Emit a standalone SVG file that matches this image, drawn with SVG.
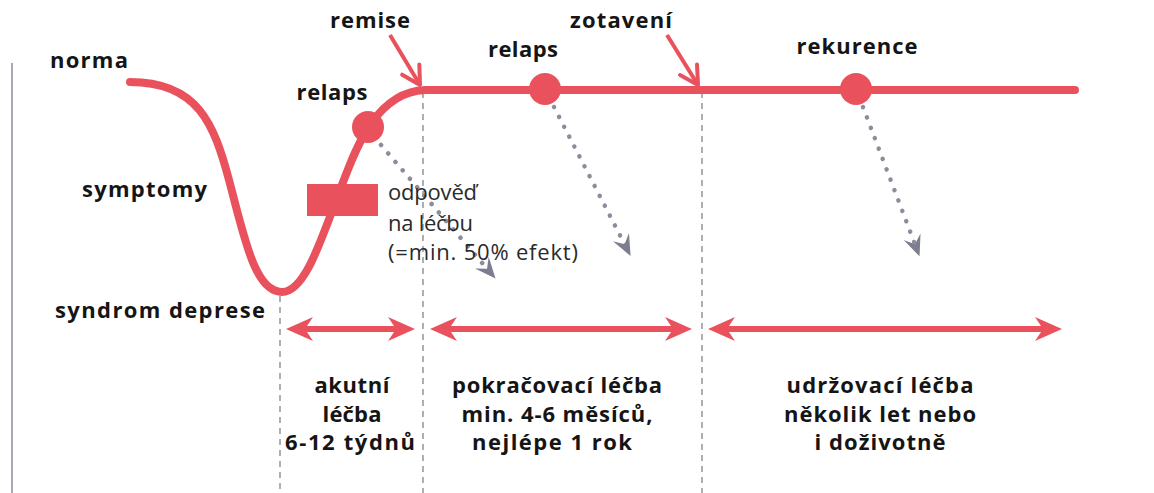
<svg xmlns="http://www.w3.org/2000/svg" width="1154" height="493" viewBox="0 0 1154 493">
<style>
.lbl{font-family:"Open Sans","Liberation Sans",sans-serif;font-weight:700;font-size:22px;fill:#151515}
.reg{font-family:"Open Sans","Liberation Sans",sans-serif;font-weight:400;font-size:22px;fill:#2a2a2a}
.phase{font-family:"Open Sans","Liberation Sans",sans-serif;font-weight:700;font-size:22px;fill:#151515;text-anchor:middle}
.mid{text-anchor:middle}
.red{stroke:#e9525d;fill:none}
.dash{stroke:#9a9aa0;stroke-width:1.6;stroke-dasharray:6 5;fill:none}
.dots{stroke:#8c8c9c;stroke-width:4.5;stroke-linecap:round;stroke-dasharray:0.1 11;fill:none}
.dot{fill:#e9525d}
</style>
<defs>
<marker id="redHead" viewBox="-30 -13 32 26" markerWidth="32" markerHeight="26" refX="-16" refY="0" orient="auto-start-reverse" markerUnits="userSpaceOnUse">
<path d="M0,0 L-27,-12 L-19,0 L-27,12 Z" fill="#e9525d"/>
</marker>
<marker id="grayHead" viewBox="-24 -11 26 22" markerWidth="26" markerHeight="22" refX="-10" refY="0" orient="auto" markerUnits="userSpaceOnUse">
<path d="M0,0 L-21,-9 L-13,0 L-21,9 Z" fill="#7d7d90"/>
</marker>
<marker id="openHead" viewBox="-22 -12 24 24" markerWidth="24" markerHeight="24" refX="0" refY="0" orient="auto" markerUnits="userSpaceOnUse">
<path d="M-18,-10 L0,0 L-18,10" fill="none" stroke="#e9525d" stroke-width="4" stroke-linecap="round" stroke-linejoin="round"/>
</marker>
</defs>
<rect width="1154" height="493" fill="#ffffff"/>
<line x1="12" y1="63" x2="12" y2="493" stroke="#a8a8b0" stroke-width="2"/>

<g id="connectors">
<line class="dash" x1="280" y1="296" x2="280" y2="493"/>
<line class="dash" x1="423" y1="92" x2="423" y2="493"/>
<line class="dash" x1="702" y1="92" x2="702" y2="493"/>
<path id="course" class="red" stroke-width="8" stroke-linecap="round" d="M130,82 C198,82 214,124 229,180 C245,240 255,292 282,292 C305,292 321,240 340,190 C352,160 372,92 425,90 L1075,90"/>
<line class="red" stroke-width="4" x1="390" y1="35" x2="420" y2="85" marker-end="url(#openHead)"/>
<line class="red" stroke-width="4" x1="667" y1="35" x2="698" y2="85" marker-end="url(#openHead)"/>
<line class="dots" x1="381" y1="145" x2="489" y2="271" marker-end="url(#grayHead)"/>
<line class="dots" x1="554" y1="107" x2="626" y2="247" marker-end="url(#grayHead)"/>
<line class="dots" x1="863" y1="107" x2="916" y2="247" marker-end="url(#grayHead)"/>
<line class="red" stroke-width="6" x1="302" y1="329" x2="399" y2="329" marker-start="url(#redHead)" marker-end="url(#redHead)"/>
<line class="red" stroke-width="6" x1="446" y1="329" x2="676" y2="329" marker-start="url(#redHead)" marker-end="url(#redHead)"/>
<line class="red" stroke-width="6" x1="724" y1="329" x2="1046" y2="329" marker-start="url(#redHead)" marker-end="url(#redHead)"/>
</g>

<g id="relaps1"><circle class="dot" cx="368" cy="127" r="16"/><text class="lbl mid" x="332" y="100" textLength="71">relaps</text></g>
<g id="relaps2"><circle class="dot" cx="545" cy="89" r="16"/><text class="lbl mid" x="523" y="57" textLength="70">relaps</text></g>
<g id="rekurence"><circle class="dot" cx="856" cy="89" r="16"/><text class="lbl mid" x="857" y="54" textLength="121">rekurence</text></g>
<g id="odpoved"><rect x="307" y="184" width="71" height="32" fill="#e9525d"/>
<text class="reg" x="388" y="200" textLength="89">odpověď</text>
<text class="reg" x="388" y="231" textLength="85">na léčbu</text>
<text class="reg" x="388" y="260" textLength="190">(=min. 50% efekt)</text></g>

<g id="labels">
<text class="lbl" x="50" y="68" textLength="78">norma</text>
<text class="lbl" x="82" y="197" textLength="125">symptomy</text>
<text class="lbl" x="55" y="318" textLength="210">syndrom deprese</text>
<text class="lbl mid" x="370" y="28" textLength="80">remise</text>
<text class="lbl mid" x="621" y="28" textLength="102">zotavení</text>
</g>

<g id="akutni">
<text class="phase" x="352" y="393" textLength="75">akutní</text>
<text class="phase" x="352" y="422" textLength="59">léčba</text>
<text class="phase" x="350" y="450" textLength="130">6-12 týdnů</text>
</g>
<g id="pokracovaci">
<text class="phase" x="557" y="393" textLength="210">pokračovací léčba</text>
<text class="phase" x="557" y="422" textLength="191">min. 4-6 měsíců,</text>
<text class="phase" x="552" y="450" textLength="160">nejlépe 1 rok</text>
</g>
<g id="udrzovaci">
<text class="phase" x="880" y="393" textLength="187">udržovací léčba</text>
<text class="phase" x="880" y="422" textLength="192">několik let nebo</text>
<text class="phase" x="880" y="450" textLength="131">i doživotně</text>
</g>
</svg>
